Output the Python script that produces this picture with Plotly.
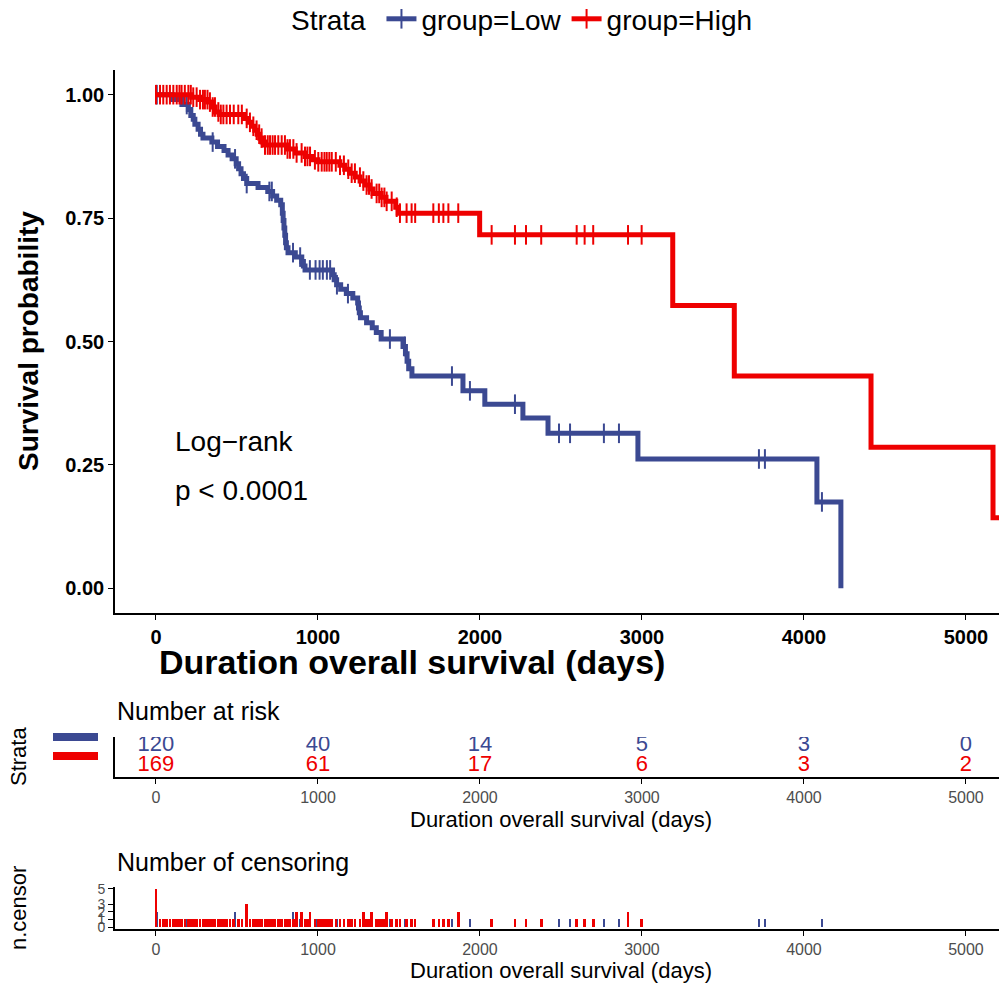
import numpy as np
import plotly.graph_objects as go

# ---------------- data ----------------
low_times = [0, 100, 160, 200, 215, 230, 240, 260, 275, 290, 345, 380, 420, 445, 470, 495, 510, 525, 540, 560,
             630, 690, 720, 745, 770, 780, 785, 790, 795, 800, 805, 815, 860, 900, 910, 920, 1090, 1100, 1115,
             1140, 1175, 1215, 1245, 1250, 1255, 1262, 1300, 1335, 1360, 1390, 1525, 1540, 1550, 1560, 1580,
             1895, 2030, 2265, 2420, 2975, 4080, 4228]
low_surv = [1.0, 0.99, 0.98, 0.97, 0.958, 0.95, 0.94, 0.93, 0.92, 0.912, 0.904, 0.895, 0.887, 0.878, 0.87, 0.86,
            0.85, 0.84, 0.83, 0.82, 0.812, 0.804, 0.795, 0.786, 0.777, 0.76, 0.745, 0.73, 0.715, 0.70, 0.69, 0.68,
            0.671, 0.662, 0.653, 0.645, 0.635, 0.625, 0.615, 0.606, 0.597, 0.588, 0.578, 0.568, 0.558, 0.548,
            0.538, 0.528, 0.518, 0.505, 0.49, 0.475, 0.46, 0.445, 0.43, 0.40, 0.373, 0.345, 0.314, 0.262,
            0.175, 0.0]

high_times = [0, 220, 270, 320, 345, 365, 390, 545, 570, 590, 610, 625, 640, 655, 670, 810, 860, 920, 960, 1000,
              1135, 1165, 1195, 1230, 1260, 1290, 1320, 1340, 1390, 1420, 1480, 1495, 1998, 3190, 3570, 4414,
              5167, 5250]
high_surv = [1.0, 0.995, 0.99, 0.985, 0.975, 0.965, 0.96, 0.952, 0.944, 0.936, 0.928, 0.92, 0.912, 0.904, 0.898,
             0.89, 0.882, 0.875, 0.868, 0.864, 0.857, 0.849, 0.841, 0.833, 0.825, 0.817, 0.809, 0.80, 0.792,
             0.784, 0.772, 0.76, 0.716, 0.573, 0.430, 0.286, 0.143, 0.143]

low_cens_t = [5, 190, 350, 488, 560, 700, 715, 846, 890, 950, 985, 1010, 1030, 1055, 1075, 1117, 1185, 1444,
              1537, 1827, 1938, 2216, 2488, 2556, 2765, 2858, 3722, 3759, 4111]
low_cens_n = [2, 1, 1, 2, 1, 1, 1, 2, 1, 1, 1, 1, 1, 1, 1, 1, 1, 1,
              1, 1, 1, 1, 1, 1, 1, 1, 1, 1, 1]

high_cens_t = [0, 25, 45, 66, 86, 107, 128, 145, 158, 178, 200, 215, 230, 251, 272, 290, 302, 318, 333, 350, 364,
               385, 400, 416, 436, 457, 480, 508, 530, 560, 580, 601, 621, 637, 652, 673, 690, 704, 720, 735, 755,
               776, 796, 812, 827, 848, 868, 899, 920, 935, 951, 981, 1002, 1023, 1040, 1054, 1070, 1085, 1110,
               1136, 1160, 1187, 1208, 1228, 1259, 1280, 1300, 1315, 1331, 1362, 1378, 1393, 1410, 1424, 1455,
               1486, 1506, 1547, 1578, 1600, 1712, 1746, 1774, 1805, 1866, 2072, 2216, 2284, 2378, 2597, 2646,
               2699, 2914, 2998]
high_cens_n = [5, 1, 1, 1, 1, 1, 1, 1, 1, 1, 1, 1, 1, 1, 1, 1, 1, 1, 1, 1, 1,
               1, 1, 1, 1, 1, 1, 1, 1, 3, 1, 1, 1, 1, 1, 1, 1, 1, 1, 1, 1,
               1, 1, 1, 1, 1, 2, 2, 1, 1, 2, 1, 1, 1, 1, 1, 1, 1, 1,
               1, 1, 1, 1, 1, 1, 2, 1, 1, 2, 1, 1, 1, 1, 2, 1,
               1, 1, 1, 1, 1, 1, 1, 1, 1, 2, 1, 1, 1, 1, 1, 1,
               1, 2, 1]

risk_ticks = [0, 1000, 2000, 3000, 4000, 5000]
risk_low = [120, 40, 14, 5, 3, 0]
risk_high = [169, 61, 17, 6, 3, 2]

group_names = ["group=Low", "group=High"]
BLUE = "#3B4992"
RED = "#EE0000"

# ---------------- layout helpers ----------------
W, H = 999, 985
FONT = "Liberation Sans, Arial, sans-serif"


def fx(p):
    return p / W


def fy(p):
    return 1 - p / H


def step_lookup(times, surv, t):
    idx = np.searchsorted(np.asarray(times), np.asarray(t), side="right") - 1
    return np.asarray(surv)[idx]


XR = [-253, 5204]

fig = go.Figure()

for name, col, tt, ss, ct in [
    (group_names[0], BLUE, low_times, low_surv, low_cens_t),
    (group_names[1], RED, high_times, high_surv, high_cens_t),
]:
    fig.add_trace(go.Scatter(
        x=tt, y=ss, mode="lines", line=dict(color=col, width=5, shape="hv"),
        name=name, legendgroup=name, showlegend=False, xaxis="x", yaxis="y"))
    fig.add_trace(go.Scatter(
        x=ct, y=step_lookup(tt, ss, ct), mode="markers",
        marker=dict(symbol="line-ns", size=14, color=col, line=dict(color=col, width=2)),
        name=name, legendgroup=name, showlegend=False, xaxis="x", yaxis="y"))
    fig.add_trace(go.Scatter(
        x=[None], y=[None], mode="lines+markers", name=name, legendgroup=name,
        line=dict(color=col, width=5),
        marker=dict(symbol="line-ns", size=14, color=col, line=dict(color=col, width=2)),
        xaxis="x", yaxis="y"))

# risk table numbers
fig.add_trace(go.Scatter(x=risk_ticks, y=[2] * len(risk_ticks), mode="text",
                         text=[str(v) for v in risk_low], textfont=dict(color=BLUE, size=22, family=FONT),
                         showlegend=False, xaxis="x2", yaxis="y2"))
fig.add_trace(go.Scatter(x=risk_ticks, y=[1] * len(risk_ticks), mode="text",
                         text=[str(v) for v in risk_high], textfont=dict(color=RED, size=22, family=FONT),
                         showlegend=False, xaxis="x2", yaxis="y2"))

# censoring bars
fig.add_trace(go.Bar(x=low_cens_t, y=low_cens_n, width=16, marker=dict(color=BLUE, line=dict(width=0)),
                     showlegend=False, xaxis="x3", yaxis="y3"))
fig.add_trace(go.Bar(x=high_cens_t, y=high_cens_n, width=16, marker=dict(color=RED, line=dict(width=0)),
                     showlegend=False, xaxis="x3", yaxis="y3"))

xdom = [fx(115), 1.0]
axis_common = dict(showline=True, linecolor="black", linewidth=1.6, ticks="outside", ticklen=5,
                   tickcolor="black", tickwidth=1.4, showgrid=False, zeroline=False)

fig.update_layout(
    width=W, height=H, margin=dict(l=0, r=0, t=0, b=0, autoexpand=False),
    paper_bgcolor="white", plot_bgcolor="white",
    font=dict(family=FONT, color="black"),
    barmode="overlay", bargap=0,
    xaxis=dict(domain=xdom, range=XR, tickvals=risk_ticks, anchor="y",
               tickfont=dict(size=20, family=FONT, color="black", weight="bold"),
               **axis_common),
    yaxis=dict(domain=[fy(613), fy(70)], range=[-0.05, 1.05], tickvals=[0, 0.25, 0.5, 0.75, 1.0],
               tickformat=".2f", anchor="x",
               tickfont=dict(size=20, family=FONT, color="black", weight="bold"),
               **axis_common),
    xaxis2=dict(domain=xdom, range=XR, tickvals=risk_ticks, anchor="y2",
                tickfont=dict(size=16, color="#4D4D4D"), **axis_common),
    yaxis2=dict(domain=[fy(777), fy(737)], range=[0.4, 2.4], anchor="x2", showticklabels=False,
                showline=True, linecolor="black", linewidth=1.6, ticks="", showgrid=False, zeroline=False),
    xaxis3=dict(domain=xdom, range=XR, tickvals=risk_ticks, anchor="y3",
                tickfont=dict(size=16, color="#4D4D4D"), **axis_common),
    yaxis3=dict(domain=[fy(929), fy(887)], range=[-0.25, 5.25], anchor="x3", tickvals=[0, 1, 2, 3, 5],
                tickfont=dict(size=14, color="#4D4D4D"), **axis_common),
    legend=dict(orientation="h", x=0.524, xanchor="center", y=1.006, yanchor="top",
                font=dict(size=28, family=FONT, color="black"), itemwidth=30,
                title=dict(text="Strata ", side="left", font=dict(size=28, family=FONT))),
)

ann = []
ann.append(dict(text="<b>Duration overall survival (days)</b>", x=fx(157), y=fy(662), xref="paper", yref="paper",
                showarrow=False, font=dict(size=34, family=FONT), xanchor="left", yanchor="middle"))
ann.append(dict(text="<b>Survival probability</b>", x=fx(28), y=fy(341), xref="paper", yref="paper",
                showarrow=False, textangle=-90, font=dict(size=28, family=FONT), xanchor="center",
                yanchor="middle"))
ann.append(dict(text="Log\u2212rank", x=105, y=0.298, xref="x", yref="y", showarrow=False,
                font=dict(size=28, family=FONT), xanchor="left", yanchor="middle"))
ann.append(dict(text="p < 0.0001", x=105, y=0.198, xref="x", yref="y", showarrow=False,
                font=dict(size=28, family=FONT), xanchor="left", yanchor="middle"))
ann.append(dict(text="Number at risk", x=fx(115), y=fy(711), xref="paper", yref="paper", showarrow=False,
                font=dict(size=25, family=FONT), xanchor="left", yanchor="middle"))
ann.append(dict(text="Strata", x=fx(18), y=fy(757), xref="paper", yref="paper", showarrow=False,
                textangle=-90, font=dict(size=22, family=FONT), xanchor="center", yanchor="middle"))
ann.append(dict(text="Duration overall survival (days)", x=fx(561), y=fy(819), xref="paper", yref="paper",
                showarrow=False, font=dict(size=22, family=FONT), xanchor="center", yanchor="middle"))
ann.append(dict(text="Number of censoring", x=fx(115), y=fy(862), xref="paper", yref="paper", showarrow=False,
                font=dict(size=25, family=FONT), xanchor="left", yanchor="middle"))
ann.append(dict(text="n.censor", x=fx(18), y=fy(908), xref="paper", yref="paper", showarrow=False,
                textangle=-90, font=dict(size=22, family=FONT), xanchor="center", yanchor="middle"))
ann.append(dict(text="Duration overall survival (days)", x=fx(561), y=fy(970), xref="paper", yref="paper",
                showarrow=False, font=dict(size=22, family=FONT), xanchor="center", yanchor="middle"))
fig.update_layout(annotations=ann)

fig.add_shape(type="rect", xref="paper", yref="paper", x0=fx(53), x1=fx(98), y0=fy(741), y1=fy(733),
              fillcolor=BLUE, line=dict(width=0))
fig.add_shape(type="rect", xref="paper", yref="paper", x0=fx(53), x1=fx(98), y0=fy(760), y1=fy(752),
              fillcolor=RED, line=dict(width=0))

fig.write_html("out.html")
